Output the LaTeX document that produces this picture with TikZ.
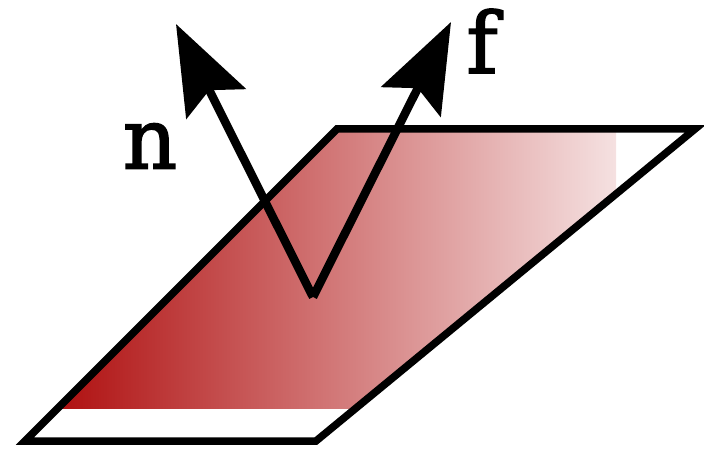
\documentclass[tikz,border=0pt]{standalone}
\usepackage{fontspec}
\setmainfont{DejaVu Serif}[FakeBold=2]
\usetikzlibrary{arrows.meta}
\definecolor{ctRed}{HTML}{B01212}
\definecolor{ctPale}{HTML}{F5E1E1}
\begin{document}
\begin{tikzpicture}[x=.01cm,y=-.01cm,edge/.style={line width=.075cm,line join=miter},
  arr/.style={-{Stealth[length=.89cm,width=.66cm,inset=.15cm]},line width=.085cm},
  lbl/.style={font=\fontsize{24}{24}\selectfont,inner sep=0pt}]
  \useasboundingbox (0,0) rectangle (704,449);
  \coordinate (bl) at (25,441);
  \coordinate (br) at (316,441);
  \coordinate (tr) at (695,129);
  \coordinate (tl) at (337,129);
  \coordinate (base) at (313,297);
  \coordinate (ntip) at (176,24);
  \coordinate (ftip) at (451,22);
  \begin{scope}
    \clip (bl)--(br)--(tr)--(tl)--cycle;
    \fill[left color=ctRed,right color=ctPale] (62,129) rectangle (616,408);
  \end{scope}
  \draw[edge] (bl)--(br)--(tr)--(tl)--cycle;
  \draw[arr] (base)--(ntip);
  \draw[arr] (base)--(ftip);
  \node[lbl] (n) at (150,146) {n};
  \node[lbl] (f) at (482,41) {f};
\end{tikzpicture}
\end{document}
